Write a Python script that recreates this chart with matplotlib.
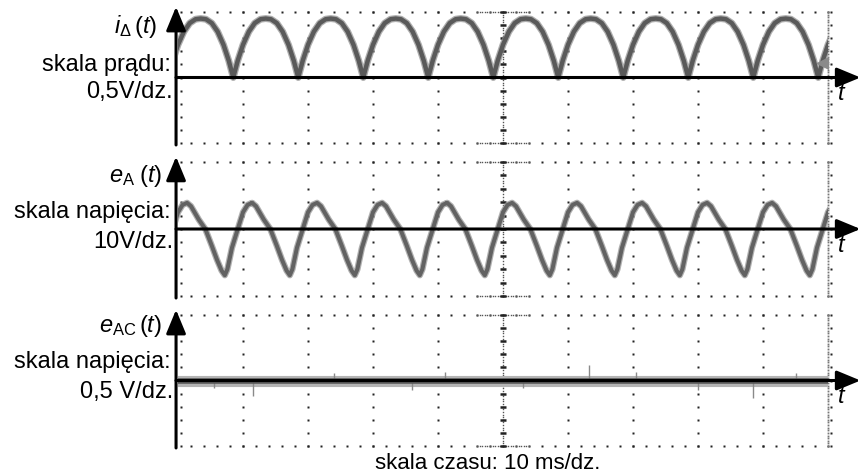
import numpy as np
import matplotlib
matplotlib.use('Agg')
import matplotlib.pyplot as plt

plt.rcParams['font.family'] = ['Liberation Sans', 'DejaVu Sans']
plt.rcParams['mathtext.fontset'] = 'custom'
plt.rcParams['mathtext.rm'] = 'Liberation Sans'
plt.rcParams['mathtext.it'] = 'Liberation Sans:italic'

# --- data (time and amplitude in scope divisions) ---
# i_delta(t): one period, starting at a minimum
ia_phase = [0.0, 0.07, 0.15, 0.24, 0.33, 0.42, 0.50, 0.58, 0.67, 0.76, 0.85, 0.93, 1.0]
ia_value = [0.0, 0.26, 0.50, 0.70, 0.83, 0.89, 0.90, 0.89, 0.83, 0.70, 0.50, 0.26, 0.0]
ia_starts = [-0.15, 0.85, 1.85, 2.85, 3.85, 4.85, 5.85, 6.85, 7.85, 8.85, 9.85]

# e_A(t): one period starting at a maximum
ea_phase = [0.0, 0.06, 0.12, 0.18, 0.28, 0.38, 0.46, 0.53, 0.58, 0.62, 0.69, 0.78, 0.86, 0.93, 1.0]
ea_value = [0.39, 0.34, 0.24, 0.14, 0.0, -0.25, -0.46, -0.62, -0.69, -0.60, -0.28, 0.0, 0.25, 0.36, 0.39]
ea_starts = [-0.86, 0.14, 1.14, 2.14, 3.14, 4.14, 5.14, 6.14, 7.14, 8.14, 9.14]

# e_AC(t): flat noise band with a few visible spikes
eac_t = [0.0, 10.0]
eac_v = [0.0, 0.0]
eac_spike_t = [0.55, 1.15, 2.4, 3.6, 4.1, 5.3, 6.32, 7.05, 8.0, 8.85, 9.5]
eac_spike_v = [-0.12, -0.23, 0.12, -0.14, 0.13, -0.12, 0.23, 0.13, -0.15, -0.27, 0.12]

panels = [
    dict(box=(178, 12, 828, 143), name=r'$i_{\Delta}\,(t)$', label='skala prądu:',
         scale='0,5V/dz.', ypix=(33, 71, 98), namex=157),
    dict(box=(178, 162, 828, 296), name=r'$e_{\mathrm{A}}\;(t)$', label='skala napięcia:',
         scale='10V/dz.', ypix=(182, 218, 248), namex=162),
    dict(box=(178, 315, 828, 446), name=r'$e_{\mathrm{AC}}\,(t)$', label='skala napięcia:',
         scale='0,5 V/dz.', ypix=(332, 368, 398), namex=162),
]

W, H = 860, 475


def periodic(starts, phase, value):
    t = np.concatenate([s + np.asarray(phase) for s in starts])
    v = np.tile(value, len(starts))
    return t, v


def draw_grid(ax):
    ys = np.arange(-1, 1.001, 0.2)
    yd = np.arange(-1, 1.001, 0.04)
    xs = np.arange(0.2, 10.001, 0.2)
    dot = dict(ls='none', marker='s', ms=1.7, mec='none', mfc='#222222', clip_on=False)
    for x in range(1, 10):
        if x != 5:
            ax.plot(np.full_like(ys, x), ys, **dot)
    for y in (-1, 1):
        ax.plot(xs, np.full_like(xs, y), **dot)
    xc = np.arange(4.6, 5.41, 0.04)
    for y in (-1, 1):
        ax.plot(xc, np.full_like(xc, y), ls='none', marker='s', ms=1.0, mec='none',
                mfc='#555555', clip_on=False)
    ax.plot(np.full_like(yd, 5), yd, ls='none', marker='s', ms=1.0, mec='none',
            mfc='#555555', clip_on=False)
    ax.plot(np.full_like(ys, 5), ys, ls='none', marker='_', ms=5, mew=1.8,
            color='#222222', clip_on=False)
    ax.plot(np.full_like(yd, 10), yd, ls='none', marker='s', ms=1.3, mec='none',
            mfc='#777777', clip_on=False)
    ax.plot(np.full_like(ys, 10.05), ys, **dot)
    ax.plot(np.full_like(ys, 0.05), ys, **dot)


def draw_arrows(ax):
    style = dict(arrowstyle='-|>,head_length=1.45,head_width=0.6', mutation_scale=10,
                 lw=2.2, color='black', shrinkA=0, shrinkB=0)
    ax.annotate('', xy=(-0.03, 1.08), xytext=(-0.03, -1.03), arrowprops=style,
                annotation_clip=False)
    ax.annotate('', xy=(10.5, 0), xytext=(-0.03, 0), arrowprops=style,
                annotation_clip=False)
    ax.text(10.15, -0.35, 't', fontsize=17, style='italic', ha='left', va='baseline',
            clip_on=False)


fig = plt.figure(figsize=(W / 100, H / 100), dpi=100)
fig.patch.set_facecolor('white')

axes = []
for p in panels:
    l, t, r, b = p['box']
    ax = fig.add_axes([l / W, 1 - b / H, (r - l) / W, (b - t) / H])
    ax.set_xlim(0, 10)
    ax.set_ylim(-1, 1)
    ax.set_axis_off()
    draw_grid(ax)
    axes.append(ax)

    fig.text(p['namex'] / W, 1 - p['ypix'][0] / H, p['name'], fontsize=17,
             ha='right', va='baseline')
    fig.text(171 / W, 1 - p['ypix'][1] / H, p['label'], fontsize=17,
             ha='right', va='baseline')
    fig.text(173 / W, 1 - p['ypix'][2] / H, p['scale'], fontsize=17,
             ha='right', va='baseline')

# traces
t1, v1 = periodic(ia_starts, ia_phase, ia_value)
axes[0].plot(t1, v1, color='#8c8c8c', lw=5.0, alpha=0.7, solid_joinstyle='round')
axes[0].plot(t1, v1, color='#5a5a5a', lw=3.2, solid_joinstyle='round')
axes[0].plot([9.93], [0.22], marker='<', ms=9, color='#8a8a8a', ls='none')

t2, v2 = periodic(ea_starts, ea_phase, ea_value)
axes[1].plot(t2, v2, color='#909090', lw=4.6, alpha=0.7, solid_joinstyle='round')
axes[1].plot(t2, v2, color='#626262', lw=2.9, solid_joinstyle='round')

axes[2].plot(eac_t, eac_v, color='#b4b4b4', lw=8)
axes[2].vlines(eac_spike_t, 0, eac_spike_v, color='#8a8a8a', lw=1.0)
axes[2].plot(eac_t, eac_v, color='#555555', lw=4)

for ax in axes:
    draw_arrows(ax)

fig.text(488 / W, 1 - 469 / H, 'skala czasu: 10 ms/dz.', fontsize=16,
         ha='center', va='baseline')

fig.savefig('out.png', dpi=100, facecolor='white')
